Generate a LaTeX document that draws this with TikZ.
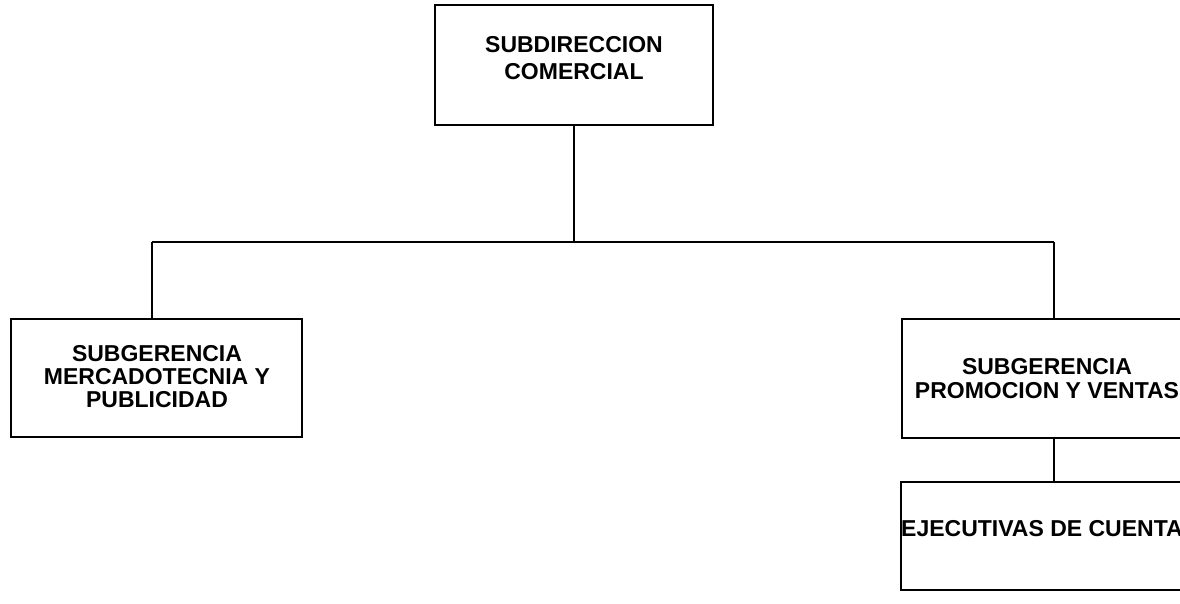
\documentclass[tikz,border=0pt]{standalone}
\usepackage{fontspec}
\setmainfont{Liberation Sans}
\begin{document}
\begin{tikzpicture}[x=1pt,y=-1pt,
  box/.style={draw=black, line width=1.9pt, rectangle, inner sep=0pt},
  lbl/.style={font=\bfseries\fontsize{23}{23}\selectfont, align=center, inner sep=0pt, text=black},
  conn/.style={draw=black, line width=1.9pt}]
\path[use as bounding box, clip] (0,0) rectangle (1180,603);
\fill[white] (0,0) rectangle (1180,603);
% boxes
\node[box, minimum width=278pt, minimum height=120pt] (top) at (574,65) {};
\node[box, minimum width=291pt, minimum height=118pt] (left) at (156.5,378) {};
\node[box, minimum width=290pt, minimum height=119pt] (right) at (1047,378.5) {};
\node[box, minimum width=291pt, minimum height=108pt] (bottom) at (1046.5,536) {};
% labels
\node[lbl, font=\bfseries\fontsize{23}{27}\selectfont] (toplbl) at (574,58) {SUBDIRECCION\\COMERCIAL};
\node[lbl, font=\bfseries\fontsize{23}{23}\selectfont] (leftlbl) at (157,377) {SUBGERENCIA\\MERCADOTECNIA Y\\PUBLICIDAD};
\node[lbl, font=\bfseries\fontsize{23}{24}\selectfont] (rightlbl) at (1047,378.5) {SUBGERENCIA\\PROMOCION Y VENTAS};
\node[lbl, anchor=west] (bottomlbl) at (901,529) {EJECUTIVAS DE CUENTA};
% connectors
\coordinate (busL) at (152,242);
\coordinate (busR) at (1054,242);
\draw[conn] (top.south) -- (top.south |- busL);
\draw[conn] (busL) -- (busR);
\draw[conn] (busL) -- (busL |- left.north);
\draw[conn] (busR) -- (busR |- right.north);
\draw[conn] (busR |- right.south) -- (busR |- bottom.north);
\end{tikzpicture}
\end{document}
